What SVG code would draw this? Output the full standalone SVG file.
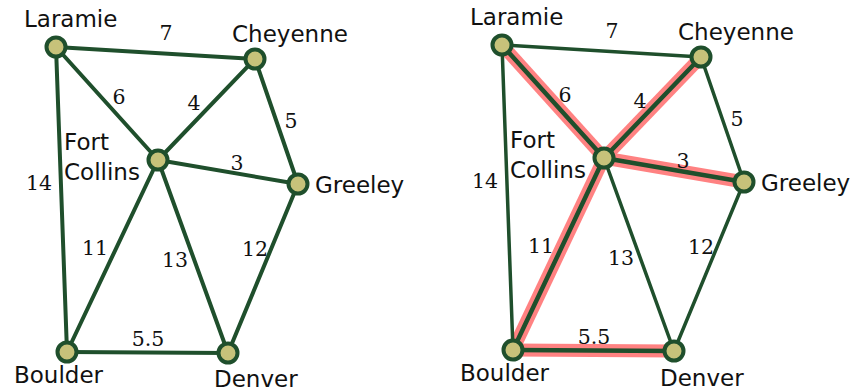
<svg xmlns="http://www.w3.org/2000/svg" width="854" height="391" viewBox="0 0 854 391">
<style>
.e{stroke:#1f4f2c;stroke-width:4;stroke-linecap:round;fill:none}
.e2{stroke:#1f4f2c;stroke-width:3.5;stroke-linecap:round;fill:none}
.eh{stroke:#1f4f2c;stroke-width:4.5;stroke-linecap:round;fill:none}
.hl{stroke:#ff8282;stroke-width:13;stroke-linecap:butt;fill:none}
.n{fill:#c7c27a;stroke:#1f4f2c;stroke-width:4}
.t{font-family:"DejaVu Sans",Verdana,sans-serif;font-size:23px;fill:#111}
.w{font-family:"DejaVu Serif","Liberation Serif",serif;font-size:20.5px;fill:#111;text-anchor:middle}
</style>
<rect width="854" height="391" fill="#fff"/>
<g id="connectors-left">
<line class="e" x1="56" y1="47" x2="255" y2="59"/>
<line class="e" x1="56" y1="47" x2="158" y2="160"/>
<line class="e" x1="56" y1="47" x2="67" y2="352"/>
<line class="e" x1="255" y1="59" x2="158" y2="160"/>
<line class="e" x1="255" y1="59" x2="298" y2="184"/>
<line class="e" x1="158" y1="160" x2="298" y2="184"/>
<line class="e" x1="158" y1="160" x2="67" y2="352"/>
<line class="e" x1="158" y1="160" x2="228" y2="353"/>
<line class="e" x1="298" y1="184" x2="228" y2="353"/>
<line class="e" x1="67" y1="352" x2="228" y2="353"/>
<text class="w" x="166" y="40">7</text>
<text class="w" x="119" y="104">6</text>
<text class="w" x="194" y="110">4</text>
<text class="w" x="291" y="128">5</text>
<text class="w" x="237" y="170">3</text>
<text class="w" x="39" y="190">14</text>
<text class="w" x="95" y="255">11</text>
<text class="w" x="175" y="267">13</text>
<text class="w" x="255" y="256">12</text>
<text class="w" x="148" y="346">5.5</text>
</g>
<g id="laramie-left"><circle class="n" cx="56" cy="47" r="9.5"/><text class="t" x="24" y="27">Laramie</text></g>
<g id="cheyenne-left"><circle class="n" cx="255" cy="59" r="9.5"/><text class="t" x="232" y="42">Cheyenne</text></g>
<g id="fortcollins-left"><circle class="n" cx="158" cy="160" r="9.5"/><text class="t" x="64" y="150">Fort</text><text class="t" x="64" y="180">Collins</text></g>
<g id="greeley-left"><circle class="n" cx="298" cy="184" r="9.5"/><text class="t" x="315" y="193">Greeley</text></g>
<g id="boulder-left"><circle class="n" cx="67" cy="352" r="9.5"/><text class="t" x="14" y="383">Boulder</text></g>
<g id="denver-left"><circle class="n" cx="228" cy="353" r="9.5"/><text class="t" x="214" y="387">Denver</text></g>

<g id="connectors-right">
<line class="hl" x1="502" y1="45" x2="604" y2="158"/>
<line class="hl" x1="701" y1="57" x2="604" y2="158"/>
<line class="hl" x1="604" y1="158" x2="744" y2="182"/>
<line class="hl" x1="604" y1="158" x2="513" y2="350"/>
<line class="hl" x1="513" y1="350" x2="674" y2="351"/>
<line class="e2" x1="502" y1="45" x2="701" y2="57"/>
<line class="e2" x1="502" y1="45" x2="513" y2="350"/>
<line class="e2" x1="701" y1="57" x2="744" y2="182"/>
<line class="e2" x1="604" y1="158" x2="674" y2="351"/>
<line class="e2" x1="744" y1="182" x2="674" y2="351"/>
<line class="eh" x1="502" y1="45" x2="604" y2="158"/>
<line class="eh" x1="701" y1="57" x2="604" y2="158"/>
<line class="eh" x1="604" y1="158" x2="744" y2="182"/>
<line class="eh" x1="604" y1="158" x2="513" y2="350"/>
<line class="eh" x1="513" y1="350" x2="674" y2="351"/>
<text class="w" x="612" y="38">7</text>
<text class="w" x="565" y="102">6</text>
<text class="w" x="640" y="108">4</text>
<text class="w" x="737" y="126">5</text>
<text class="w" x="683" y="168">3</text>
<text class="w" x="485" y="188">14</text>
<text class="w" x="541" y="253">11</text>
<text class="w" x="621" y="265">13</text>
<text class="w" x="701" y="254">12</text>
<text class="w" x="594" y="344">5.5</text>
</g>
<g id="laramie-right"><circle class="n" cx="502" cy="45" r="9.5"/><text class="t" x="470" y="25">Laramie</text></g>
<g id="cheyenne-right"><circle class="n" cx="701" cy="57" r="9.5"/><text class="t" x="678" y="40">Cheyenne</text></g>
<g id="fortcollins-right"><circle class="n" cx="604" cy="158" r="9.5"/><text class="t" x="510" y="148">Fort</text><text class="t" x="510" y="178">Collins</text></g>
<g id="greeley-right"><circle class="n" cx="744" cy="182" r="9.5"/><text class="t" x="761" y="191">Greeley</text></g>
<g id="boulder-right"><circle class="n" cx="513" cy="350" r="9.5"/><text class="t" x="460" y="381">Boulder</text></g>
<g id="denver-right"><circle class="n" cx="674" cy="351" r="9.5"/><text class="t" x="660" y="386">Denver</text></g>
</svg>
